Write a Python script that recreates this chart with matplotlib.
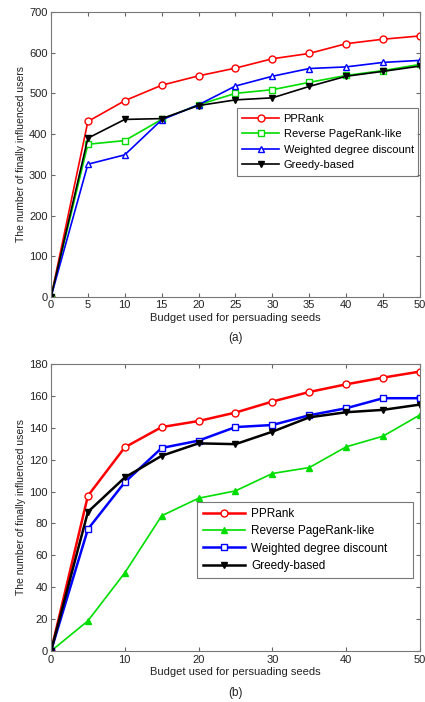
import numpy as np
import matplotlib
matplotlib.use('Agg')
import matplotlib.pyplot as plt

plt.rcParams['font.family'] = ['Liberation Sans', 'DejaVu Sans']

# budget values
budget = [0, 5, 10, 15, 20, 25, 30, 35, 40, 45, 50]
nombres = ['PPRank', 'Reverse PageRank-like', 'Weighted degree discount', 'Greedy-based']

# (a)
pprank_a = [0, 431, 482, 520, 543, 562, 585, 598, 622, 633, 641]
reverse_a = [0, 375, 384, 436, 472, 500, 509, 527, 544, 556, 571]
weighted_a = [0, 326, 349, 435, 472, 518, 542, 561, 565, 576, 581]
greedy_a = [0, 390, 436, 438, 470, 484, 489, 517, 542, 554, 567]

# (b)
pprank_b = [0, 97.3, 127.7, 140.4, 144.2, 149.5, 156.4, 162.4, 167.2, 171.4, 175.2]
reverse_b = [0, 18.9, 49, 84.8, 95.8, 100.4, 111.3, 115, 128, 134.7, 148]
weighted_b = [0, 76.4, 105.8, 127.3, 131.9, 140.4, 141.7, 147.8, 152.2, 158.5, 158.5]
greedy_b = [0, 87.2, 108.8, 122.4, 130.2, 129.7, 137.5, 146.5, 149.7, 151.2, 154.5]

fig = plt.figure(figsize=(4.25, 7.02), dpi=100)
gris = '#222222'

def estilo(ax, xt, yt, ymax):
    ax.set_xlim(0, 50)
    ax.set_ylim(0, ymax)
    ax.set_xticks(xt)
    ax.set_yticks(yt)
    ax.tick_params(direction='in', top=True, right=True, labelsize=8, length=3,
                   color='#666666', labelcolor=gris, pad=2.5)
    for s in ax.spines.values():
        s.set_color('#777777')
        s.set_linewidth(0.8)
    ax.set_xlabel('Budget used for persuading seeds', fontsize=8, color=gris, labelpad=1.5)
    ax.set_ylabel('The number of finally influenced users', fontsize=7.5, color=gris, labelpad=2)

#%% (a)
ax1 = fig.add_axes([0.12, 0.577, 0.868, 0.406])
ax1.plot(budget, pprank_a, '-o', color='red', mfc='white', mec='red', ms=5, lw=1.2, label=nombres[0])
ax1.plot(budget, reverse_a, '-s', color='#00dd00', mfc='white', mec='#00dd00', ms=5, lw=1.2, label=nombres[1])
ax1.plot(budget, weighted_a, '-^', color='blue', mfc='white', mec='blue', ms=5, lw=1.2, label=nombres[2])
ax1.plot(budget, greedy_a, '-v', color='black', mfc='black', ms=5, lw=1.2, label=nombres[3])
estilo(ax1, range(0, 51, 5), range(0, 701, 100), 700)
leg = ax1.legend(loc='upper left', bbox_to_anchor=(0.504, 0.663, 0.49, 0), mode='expand',
                 fontsize=8, frameon=True, fancybox=False, edgecolor='#555555',
                 handlelength=3.3, borderpad=0.5, labelspacing=0.5, handletextpad=0.4,
                 borderaxespad=0)
leg.get_frame().set_linewidth(0.8)
fig.text(0.553, 0.519, '(a)', ha='center', va='center', fontsize=8.5, color=gris)

#%% (b)
ax2 = fig.add_axes([0.12, 0.0726, 0.868, 0.409])
ax2.plot(budget, pprank_b, '-o', color='red', mfc='white', mec='red', ms=5, lw=1.8, label=nombres[0])
ax2.plot(budget, reverse_b, '-^', color='#00dd00', mfc='#00dd00', ms=5, lw=1.2, label=nombres[1])
ax2.plot(budget, weighted_b, '-s', color='blue', mfc='white', mec='blue', ms=5, lw=1.8, label=nombres[2])
ax2.plot(budget, greedy_b, '-v', color='black', mfc='black', ms=5, lw=1.8, label=nombres[3])
estilo(ax2, range(0, 51, 10), range(0, 181, 20), 180)
leg = ax2.legend(loc='upper left', bbox_to_anchor=(0.396, 0.519, 0.585, 0), mode='expand',
                 fontsize=8.5, frameon=True, fancybox=False, edgecolor='#555555',
                 handlelength=3.6, borderpad=0.5, labelspacing=0.45, handletextpad=0.5,
                 borderaxespad=0)
leg.get_frame().set_linewidth(0.8)
fig.text(0.553, 0.013, '(b)', ha='center', va='center', fontsize=8.5, color=gris)

plt.savefig('out.png', dpi=100)
plt.close()
